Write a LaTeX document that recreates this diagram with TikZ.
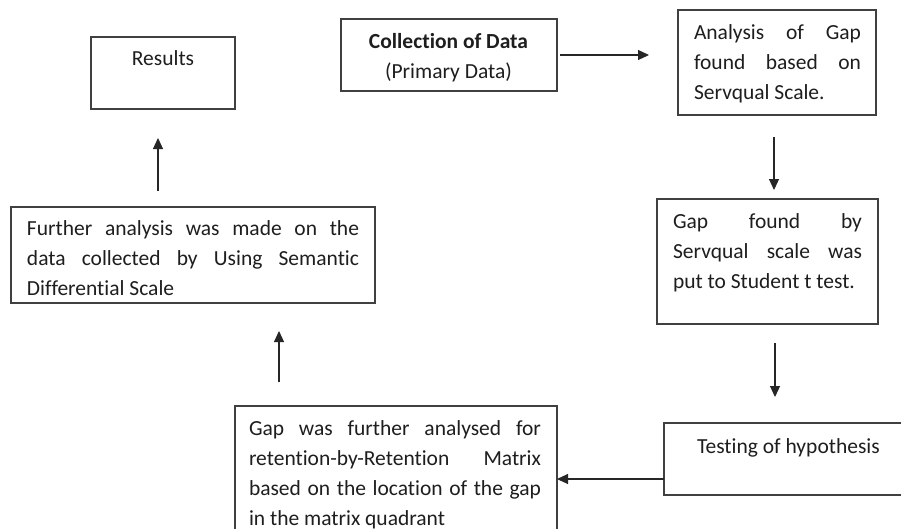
\documentclass[tikz,border=0pt]{standalone}
\usepackage{fontspec}
\setmainfont{Carlito}[Ligatures=NoCommon]
\usetikzlibrary{arrows.meta}
\definecolor{boxgray}{HTML}{404040}
\definecolor{txtcol}{HTML}{1E1E1E}
\begin{document}
\begin{tikzpicture}[x=1pt,y=-1pt,
  box/.style={draw=boxgray, line width=1.1pt, inner sep=0pt, outer sep=0pt},
  txt/.style={inner sep=0pt, outer sep=0pt, text=txtcol, font=\fontsize{21.5pt}{30pt}\selectfont},
  jtxt/.style={txt, anchor=north west, align=justify},
  arr/.style={draw=black!85, line width=1.1pt, -{Triangle[length=11pt,width=10pt]}}]
\useasboundingbox (0,0) rectangle (901,528);
\fill[white] (0,0) rectangle (901,528);
\clip (0,0) rectangle (901,528);

% boxes
\node[box, minimum width=144pt, minimum height=72pt] (res) at (163,73) {};
\node[box, minimum width=216pt, minimum height=72pt] (col) at (449,55) {};
\node[box, minimum width=198pt, minimum height=105pt] (ana) at (777,62.5) {};
\node[box, minimum width=221pt, minimum height=125pt] (gf) at (767.5,261.5) {};
\node[box, minimum width=256pt, minimum height=72pt] (test) at (792,459) {};
\node[box, minimum width=322pt, minimum height=154pt] (gap) at (396,483) {};
\node[box, minimum width=364pt, minimum height=96pt] (fa) at (193,255) {};

% texts
\node[txt, anchor=base] (rest) at (163,65) {Results};
\node[txt, anchor=north, align=center] (colt) at (448.5,26) {\rule{0pt}{22pt}\textbf{Collection of Data}\\(Primary Data)};
\node[jtxt, text width=167pt] (anat) at (694,17) {\tolerance=10000\hyphenpenalty=10000\rule{0pt}{22pt}Analysis of Gap\linebreak found based on\linebreak Servqual Scale.};
\node[jtxt, text width=189pt] (gft) at (673,206) {\tolerance=10000\hyphenpenalty=10000\rule{0pt}{22pt}Gap found by\linebreak Servqual scale was\linebreak put to Student t test.};
\node[txt, anchor=base west] (testt) at (697,453) {Testing of hypothesis};
\node[jtxt, text width=292pt] (gapt) at (249,413) {\tolerance=10000\hyphenpenalty=10000\rule{0pt}{22pt}Gap was further analysed for\linebreak retention-by-Retention Matrix\linebreak based on the location of the gap\linebreak in the matrix quadrant};
\node[jtxt, text width=332pt] (fat) at (27,213) {\tolerance=10000\hyphenpenalty=10000\rule{0pt}{22pt}Further analysis was made on the\linebreak data collected by Using Semantic\linebreak Differential Scale};

% arrows
\draw[arr, shorten <=3pt, shorten >=29pt] (col.east) -- (col.east -| ana.west);
\draw[arr, shorten <=22pt, shorten >=9pt] ([xshift=-3pt]ana.south) -- ([xshift=-3pt]ana.south |- gf.north);
\draw[arr, shorten <=19pt, shorten >=26pt] ([xshift=7.5pt]gf.south) -- ([xshift=7.5pt]gf.south |- test.north);
\draw[arr] ([yshift=-20pt]test.west) -- ([yshift=-20pt]test.west -| gap.east);
\draw[arr, shorten <=24pt, shorten >=28pt] ([xshift=44pt]gap.north west) -- ([xshift=44pt]gap.north west |- fa.south);
\draw[arr, shorten <=16pt, shorten >=29pt] ([xshift=147pt]fa.north west) -- ([xshift=147pt]fa.north west |- res.south);
\end{tikzpicture}
\end{document}
